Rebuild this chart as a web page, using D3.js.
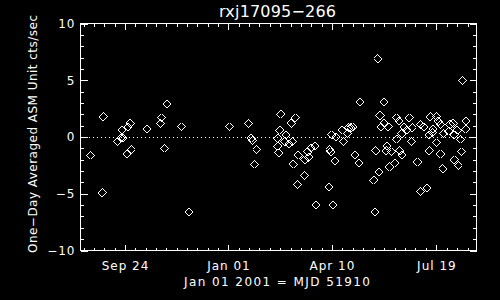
<!DOCTYPE html>
<html>
<head>
<meta charset="utf-8">
<script src="https://cdn.jsdelivr.net/npm/d3@7"></script>
<style>
  html, body { margin: 0; padding: 0; background: #000; }
  svg { display: block; }
  text { font-family: "DejaVu Sans", sans-serif; fill: #fff; }
</style>
</head>
<body>
<div id="chart"></div>
<script>
// days relative to Jan 01 2001 (MJD 51910) and one-day ASM rates
const days = [
  -132, -121, -120, -106, -103, -101, -102, -96, -94, -97, -93, -78, -65, -64, -59, -61, -45, -38,
  1, 19, 22, 23, 27, 25,
  50, 64, 60, 49, 47, 55, 54, 58, 61, 47, 48, 62, 67, 73, 77, 76, 83, 79, 73, 66, 84, 96, 100,
  97, 98, 102, 99, 103, 109, 110, 115, 119, 114, 117, 121, 125, 126,
  149, 143, 141, 139, 144, 140, 145, 146, 149, 153, 152, 151, 156, 154, 159, 161, 164, 166,
  161, 163, 173, 168, 171, 166, 176, 175, 181, 184, 190, 184, 187, 193, 199, 192, 192, 196,
  195, 199, 203, 206, 203, 205, 212, 215, 211, 219, 216, 222, 216, 220, 223, 227, 227, 224, 201
];
const rates = [
  -1.6, -4.9, 1.8, -0.4, -0.1, -0.1, 0.6, 0.9, 1.2, -1.5, -1.1, 0.7, 1.2, 1.7, 2.9, -1.0, 0.9, -6.6,
  0.9, 1.2, -0.1, -0.3, -1.1, -2.4,
  2.0, 1.7, 1.2, 0.6, -0.1, 0.2, -0.4, -0.6, -0.4, -0.8, -1.4, -2.4, -1.6, -2.0, -1.8, -1.3, -0.8,
  -1.0, -3.4, -4.2, -6.0, -4.4, -6.0,
  -1.1, -1.3, -2.1, 0.2, 0.0, 0.6, -0.4, 0.8, 0.9, 0.3, 0.8, -1.6, -2.3, 3.1,
  3.1, 6.9, -1.2, -3.8, -3.1, -6.6, 1.9, 0.9, 1.2, 0.9, -0.8, -1.2, -1.3, -2.6, -2.3, -0.2, -1.2, -1.6,
  1.7, 1.4, 1.7, 0.9, 0.6, 0.3, 0.8, -0.4, -2.2, -4.8, -4.5, 1.1, 0.9, 1.8, 1.8, 0.2, -1.2, 0.7,
  0.4, -0.5, 1.1, 0.3, -1.5, -2.8, 1.1, 1.2, 0.5, 0.6, 0.2, -0.2, -2.0, -2.5, -1.3, 1.4, 0.7, 5.0, 1.4
];
const xTickDays = [-99, 0, 99, 199];
const xTickLabels = ['Sep 24', 'Jan 01', 'Apr 10', 'Jul 19'];
const yTicks = [-10, -5, 0, 5, 10];

const width = 500;
const height = 300;

const svg = d3.select('#chart').append('svg')
  .attr('width', width)
  .attr('height', height);

svg.append('rect')
  .attr('width', width)
  .attr('height', height)
  .attr('fill', '#000');

const x = d3.scaleLinear()
  .domain([-141.6, 237.4])
  .range([80.5, 476.5]);

const y = d3.scaleLinear()
  .domain([-10, 10])
  .range([250.5, 23.5]);

// minor x ticks: tenths of each major interval, extended to the frame
const xMinor = [];
for (let i = 0; i < xTickDays.length - 1; i++) {
  const step = (xTickDays[i + 1] - xTickDays[i]) / 10;
  for (let k = 1; k < 10; k++) xMinor.push(xTickDays[i] + k * step);
}
const firstStep = (xTickDays[1] - xTickDays[0]) / 10;
for (let d = xTickDays[0] - firstStep; d > x.domain()[0]; d -= firstStep) xMinor.push(d);
const lastStep = (xTickDays[3] - xTickDays[2]) / 10;
for (let d = xTickDays[3] + lastStep; d < x.domain()[1]; d += lastStep) xMinor.push(d);

const yMinor = d3.range(-10, 11, 1).filter(v => v % 5 !== 0);

function styleAxis(g) {
  g.select('.domain').remove();
  g.selectAll('line').attr('stroke', '#fff').attr('shape-rendering', 'crispEdges');
  g.selectAll('text')
    .attr('fill', '#fff')
    .style('font-size', '12px')
    .style('letter-spacing', '1px')
    .style('font-family', '"DejaVu Sans", sans-serif');
}

// bottom axis
svg.append('g')
  .attr('transform', 'translate(0,250.5)')
  .call(d3.axisBottom(x).tickValues(xTickDays).tickSize(-6).tickPadding(11)
    .tickFormat((d, i) => xTickLabels[i]))
  .call(styleAxis);
svg.append('g')
  .attr('transform', 'translate(0,250.5)')
  .call(d3.axisBottom(x).tickValues(xMinor).tickSize(-3).tickFormat(''))
  .call(styleAxis);

// top axis
svg.append('g')
  .attr('transform', 'translate(0,23.5)')
  .call(d3.axisTop(x).tickValues(xTickDays).tickSize(-6).tickFormat(''))
  .call(styleAxis);
svg.append('g')
  .attr('transform', 'translate(0,23.5)')
  .call(d3.axisTop(x).tickValues(xMinor).tickSize(-3).tickFormat(''))
  .call(styleAxis);

// left axis
svg.append('g')
  .attr('transform', 'translate(80.5,0)')
  .call(d3.axisLeft(y).tickValues(yTicks).tickSize(-7).tickPadding(5)
    .tickFormat(d => d < 0 ? '\u2212' + Math.abs(d) : d))
  .call(styleAxis);
svg.append('g')
  .attr('transform', 'translate(80.5,0)')
  .call(d3.axisLeft(y).tickValues(yMinor).tickSize(-3.5).tickFormat(''))
  .call(styleAxis);

// right axis
svg.append('g')
  .attr('transform', 'translate(476.5,0)')
  .call(d3.axisRight(y).tickValues(yTicks).tickSize(-7).tickFormat(''))
  .call(styleAxis);
svg.append('g')
  .attr('transform', 'translate(476.5,0)')
  .call(d3.axisRight(y).tickValues(yMinor).tickSize(-3.5).tickFormat(''))
  .call(styleAxis);

// frame
svg.append('rect')
  .attr('x', x.range()[0])
  .attr('y', y.range()[1])
  .attr('width', x.range()[1] - x.range()[0])
  .attr('height', y.range()[0] - y.range()[1])
  .attr('fill', 'none')
  .attr('stroke', '#fff')
  .attr('shape-rendering', 'crispEdges');

// dotted zero line
svg.append('line')
  .attr('x1', x.range()[0] + 4)
  .attr('x2', x.range()[1])
  .attr('y1', Math.round(y(0)) + 0.5)
  .attr('y2', Math.round(y(0)) + 0.5)
  .attr('stroke', '#fff')
  .attr('stroke-dasharray', '1 3')
  .attr('shape-rendering', 'crispEdges');

// diamonds
const diamond = d3.symbol(d3.symbolSquare, 34);
const pts = days.map((d, i) => ({ d, v: rates[i] }));
svg.append('g')
  .selectAll('path')
  .data(pts)
  .join('path')
  .attr('d', diamond)
  .attr('transform', p => `translate(${x(p.d)},${y(p.v)}) rotate(45)`)
  .attr('fill', 'none')
  .attr('stroke', '#fff')
  .attr('stroke-width', 1)
  .attr('shape-rendering', 'crispEdges');

// titles
svg.append('text')
  .attr('x', 277.5)
  .attr('y', 17)
  .attr('text-anchor', 'middle')
  .attr('textLength', 117)
  .attr('lengthAdjust', 'spacing')
  .style('font-size', '16px')
  .text('rxj17095\u2212266');

svg.append('text')
  .attr('x', 277)
  .attr('y', 285.5)
  .attr('text-anchor', 'middle')
  .attr('textLength', 186)
  .attr('lengthAdjust', 'spacing')
  .style('font-size', '12px')
  .text('Jan 01 2001 = MJD 51910');

svg.append('text')
  .attr('transform', 'translate(37,134) rotate(-90)')
  .attr('text-anchor', 'middle')
  .attr('textLength', 238)
  .attr('lengthAdjust', 'spacing')
  .style('font-size', '12px')
  .text('One\u2212Day Averaged ASM Unit cts/sec');
</script>
</body>
</html>
